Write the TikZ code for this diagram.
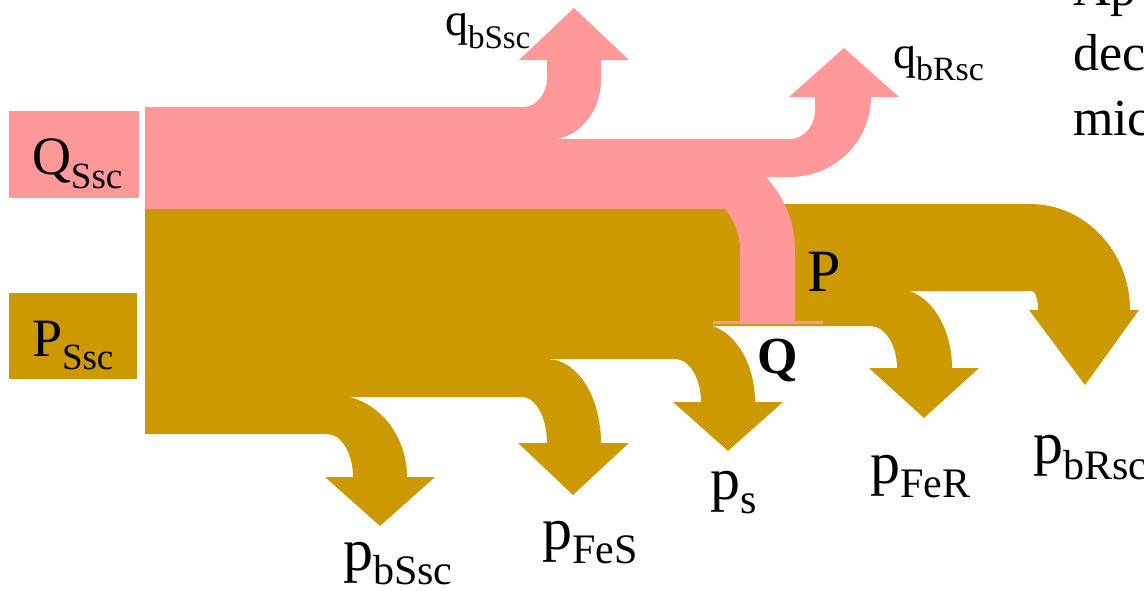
\documentclass[tikz,border=0pt]{standalone}
\usepackage{fontspec}
\setmainfont{Liberation Serif}
\definecolor{qpink}{HTML}{FF9999}
\definecolor{pgold}{HTML}{CC9900}
% symbol with a lowered, smaller index: main size, index size, symbol, index, drop
\newcommand{\flowsym}[5]{\fontsize{#1pt}{#1pt}\selectfont #3\raisebox{-#5pt}[0pt][0pt]{\fontsize{#2pt}{#2pt}\selectfont #4}}
\tikzset{
  pinkflow/.style={fill=qpink, draw=none},
  goldflow/.style={fill=pgold, draw=none},
  srcbox/.style={rectangle, draw=none, inner sep=0pt, outer sep=0pt},
  lab/.style={anchor=base west, inner sep=0pt, outer sep=0pt, text=black}
}
\begin{document}
\begin{tikzpicture}[x=1pt, y=-1pt]
\useasboundingbox (0,0) rectangle (1144,590);

% source boxes
\node[srcbox, fill=qpink, minimum width=130pt, minimum height=87pt] (qbox) at (74,154.5) {};
\node[srcbox, fill=pgold, minimum width=128pt, minimum height=86pt] (pbox) at (73,336) {};

% active power flows (gold)
\fill[goldflow] (145,204) -- (1030,204) .. controls (1085.2,204) and (1130,251.5) .. (1130,310)
  -- (1139,310) -- (1085,385) -- (1029,310) -- (1038,310)
  .. controls (1038,299.5) and (1035.3,291) .. (1032,291) -- (145,291) -- cycle;
\fill[goldflow] (145,289) -- (897,289) .. controls (927.4,289) and (952,324.4) .. (952,368)
  -- (979,368) -- (924,418) -- (869,368) -- (897,368)
  .. controls (897,344.8) and (884.9,326) .. (870,326) -- (145,326) -- cycle;
\fill[goldflow] (145,324) -- (700,324) .. controls (730.4,324) and (755,358.9) .. (755,402)
  -- (783,402) -- (728,451) -- (673,402) -- (701,402)
  .. controls (701,378.3) and (689.4,359) .. (675,359) -- (145,359) -- cycle;
\fill[goldflow] (145,357) -- (547,359) .. controls (576.8,359) and (601,396.1) .. (601,443)
  -- (629,443) -- (573,495) -- (518,443) -- (547,443)
  .. controls (547,417.6) and (535.8,397) .. (522,397) -- (145,397) -- cycle;
\fill[goldflow] (145,394) -- (333,395) .. controls (373.8,395) and (407,431.7) .. (407,477)
  -- (435,477) -- (380,526) -- (325,477) -- (353,477)
  .. controls (353,453.3) and (341.4,434) .. (327,434) -- (145,434) -- cycle;

% reactive power flows (pink)
\fill[pinkflow] (145,139) rectangle (724,209);
\fill[pinkflow] (145,107) -- (523,107) .. controls (536.2,107) and (547,94) .. (547,78)
  -- (547,60) -- (519,60) -- (574,8) -- (629,60) -- (601,60) -- (601,80)
  .. controls (601,113.1) and (577.3,140) .. (548,140) -- (145,140) -- cycle;
\fill[pinkflow] (300,139) -- (790,139) .. controls (803.8,139) and (815,126) .. (815,110)
  -- (815,97) -- (789,97) -- (844,48) -- (899,97) -- (871,97)
  .. controls (871,141.2) and (834.7,177) .. (790,177) -- (300,177) -- cycle;
\fill[pinkflow] (300,140) -- (680,140) .. controls (743.5,140) and (795,189.3) .. (795,250)
  -- (795,321) -- (823,321) -- (823,324) -- (713,324) -- (713,321) -- (740,321) -- (740,250)
  .. controls (740,209.7) and (701,177) .. (653,177) -- (300,177) -- cycle;

% labels
\node[lab] (lqssc) at (32,174) {\flowsym{54}{37}{Q}{Ssc}{14}};
\node[lab] (lpssc) at (32,356) {\flowsym{54}{37}{P}{Ssc}{13}};
\node[lab] (lqbs) at (445,35) {\flowsym{46}{33}{q}{bSsc}{13}};
\node[lab] (lqbr) at (893,68) {\flowsym{46}{34}{q}{bRsc}{12}};
\node[lab] (lpbs) at (343,570) {\flowsym{60}{42}{p}{bSsc}{14}};
\node[lab] (lpfes) at (542,549) {\flowsym{60}{42}{p}{FeS}{14}};
\node[lab] (lps) at (710,499) {\flowsym{60}{42}{p}{s}{14}};
\node[lab] (lpfer) at (870,483) {\flowsym{60}{42}{p}{FeR}{14}};
\node[lab] (lpbr) at (1033,463) {\flowsym{60}{42}{p}{bRsc}{16}};
\node[lab] (lP) at (807,291) {\fontsize{60pt}{60pt}\selectfont P};
\node[lab] (lQ) at (757,373) {\fontsize{52pt}{52pt}\selectfont\bfseries Q};

% side text running past the right edge
\node[lab] (t1) at (1073,5) {\fontsize{52pt}{52pt}\selectfont Ap};
\node[lab] (t2) at (1073,70) {\fontsize{52pt}{52pt}\selectfont dec};
\node[lab] (t3) at (1073,135) {\fontsize{52pt}{52pt}\selectfont mic};
\end{tikzpicture}
\end{document}
